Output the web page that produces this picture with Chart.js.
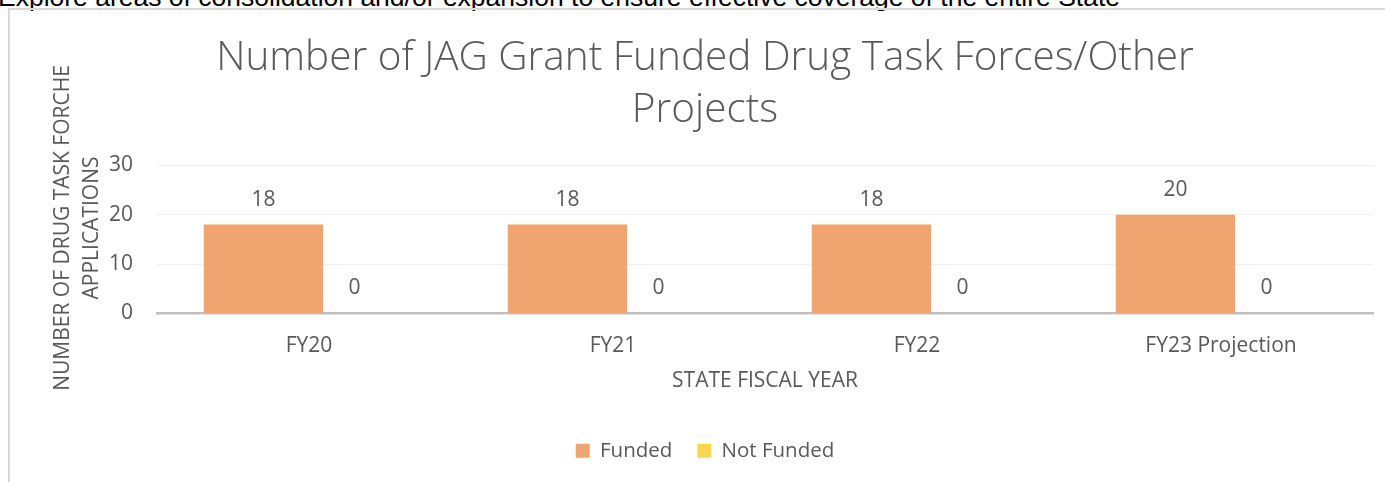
<!DOCTYPE html>
<html>
<head>
<meta charset="utf-8">
<script src="https://cdn.jsdelivr.net/npm/chart.js@4/dist/chart.umd.min.js"></script>
<style>
  html, body { margin: 0; padding: 0; background: #fff; overflow: hidden; }
  #page { position: relative; width: 1385px; height: 482px; overflow: hidden; }
  #note { position: absolute; left: -2px; top: -18px; font-family: "Liberation Sans", Arial, sans-serif; font-size: 26.5px; color: #000; white-space: nowrap; }
  #frame { position: absolute; left: 8px; top: 8px; width: 1400px; height: 500px; border-left: 2px solid #d9d9d9; border-top: 2px solid #d9d9d9; }
  #wrap { position: absolute; left: 0; top: 0; width: 1385px; height: 482px; }
</style>
</head>
<body>
<div id="page">
  <div id="note">Explore areas of consolidation and/or expansion to ensure effective coverage of the entire State</div>
  <div id="frame"></div>
  <div id="wrap"><canvas id="c" width="1385" height="482"></canvas></div>
</div>
<script>
const categories = ["FY20", "FY21", "FY22", "FY23 Projection"];
const fundedValues = [18, 18, 18, 20];
const notFundedValues = [0, 0, 0, 0];
const seriesNames = ["Funded", "Not Funded"];
const yTicks = [0, 10, 20, 30];
const chartTitle = ["Number of JAG Grant Funded Drug Task Forces/Other", "Projects"];
const yTitle = ["NUMBER OF DRUG TASK FORCHE", "APPLICATIONS"];
const xTitle = "STATE FISCAL YEAR";

const TXT = "#595959";
const FONT = "'Open Sans', sans-serif";

const labelPlugin = {
  id: "labels",
  afterDatasetsDraw(chart) {
    const ctx = chart.ctx;
    ctx.save();
    ctx.font = "21px " + FONT;
    ctx.fillStyle = TXT;
    ctx.textAlign = "center";
    ctx.textBaseline = "middle";
    chart.data.datasets.forEach((ds, di) => {
      const meta = chart.getDatasetMeta(di);
      meta.data.forEach((bar, i) => {
        ctx.fillText(String(ds.data[i]), bar.x, bar.y - 25);
      });
    });
    ctx.restore();
  }
};

const axisTitlePlugin = {
  id: "axistitles",
  afterDraw(chart) {
    const ctx = chart.ctx;
    const a = chart.chartArea;
    ctx.save();
    ctx.fillStyle = TXT;
    ctx.textAlign = "center";
    ctx.textBaseline = "middle";
    ctx.font = "21px " + FONT;
    ctx.fillText(xTitle, (a.left + a.right) / 2, 381);
    ctx.translate(63, 228);
    ctx.rotate(-Math.PI / 2);
    ctx.fillText(yTitle[0], 0, 0);
    ctx.fillText(yTitle[1], 0, 29);
    ctx.restore();
  }
};

new Chart(document.getElementById("c"), {
  type: "bar",
  data: {
    labels: categories,
    datasets: [
      { label: seriesNames[0], data: fundedValues, backgroundColor: "rgb(240,164,112)", borderWidth: 0 },
      { label: seriesNames[1], data: notFundedValues, backgroundColor: "rgb(255,212,77)", borderWidth: 0 }
    ]
  },
  options: {
    responsive: false,
    animation: false,
    categoryPercentage: 0.6,
    barPercentage: 1.308,
    layout: { padding: { left: 37, right: 12, top: 0, bottom: 11 } },
    plugins: {
      title: {
        display: true,
        text: chartTitle,
        color: TXT,
        font: { family: FONT, size: 40.5, weight: "300", lineHeight: 1.275 },
        padding: { top: 33, bottom: 29 }
      },
      legend: {
        position: "bottom",
        labels: {
          color: TXT,
          font: { family: FONT, size: 20.5 },
          boxWidth: 14,
          boxHeight: 14,
          padding: 25
        }
      },
      tooltip: { enabled: false }
    },
    scales: {
      x: {
        grid: { display: false, drawTicks: false },
        border: { display: true, color: "#bfbfbf", width: 2.5 },
        ticks: { color: TXT, font: { family: FONT, size: 21 }, padding: 20 },
        afterFit(scale) { scale.height = 102; }
      },
      y: {
        min: 0, max: 30,
        afterBuildTicks(scale) { scale.ticks = yTicks.map(v => ({ value: v })); },
        afterFit(scale) { scale.width = 120; },
        grid: {
          drawTicks: false,
          color: (c) => (c.tick && c.tick.value === 0) ? "rgba(0,0,0,0)" : "#efefef",
          lineWidth: 1
        },
        border: { display: false },
        ticks: { color: TXT, font: { family: FONT, size: 21 }, padding: 24 }
      }
    }
  },
  plugins: [labelPlugin, axisTitlePlugin]
});
</script>
</body>
</html>
